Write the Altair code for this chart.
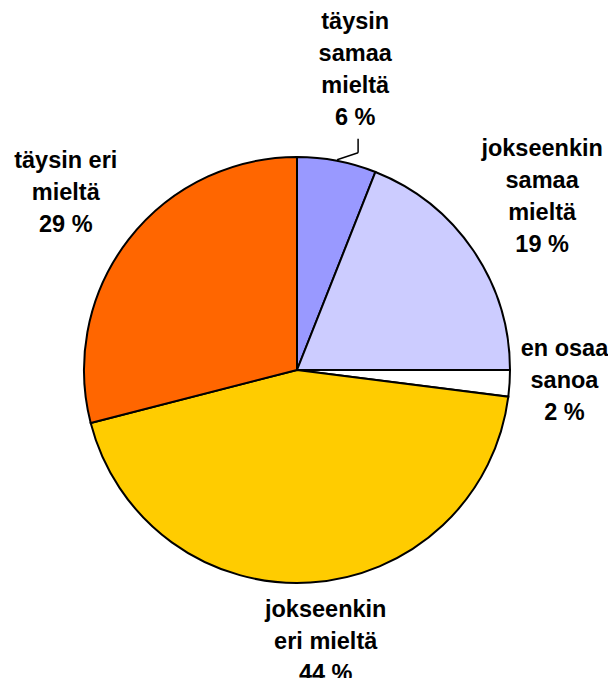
import math
import altair as alt
import pandas as pd

# ---- data ----
categories = ["täysin samaa mieltä", "jokseenkin samaa mieltä", "en osaa sanoa",
              "jokseenkin eri mieltä", "täysin eri mieltä"]
values = [6, 19, 2, 44, 29]
label_lines = [
    "täysin\nsamaa\nmieltä",
    "jokseenkin\nsamaa\nmieltä",
    "en osaa\nsanoa",
    "jokseenkin\neri mieltä",
    "täysin eri\nmieltä",
]
colors = ["#9999FF", "#CCCCFF", "#FFFFFF", "#FFCC00", "#FF6600"]

# ---- label styling (radius, dx, dy) ----
label_style = [
    (300, 2, -46),
    (300, -3, -45),
    (266, 2, -31),
    (250, 13, -3),
    (280, -10, -30),
]

df = pd.DataFrame({
    "category": categories,
    "value": values,
    "label": [f"{l}\n{v} %" for l, v in zip(label_lines, values)],
    "order": list(range(len(values))),
})

W, H = 578, 616
R = 213
FONT = "Liberation Sans"

theta_scale = alt.Scale(domain=[0, 100], range=[0, 2 * math.pi])

base = alt.Chart(df).transform_window(
    cum="sum(value)", sort=[alt.SortField("order")], frame=[None, 0]
).transform_calculate(
    start="datum.cum - datum.value",
    mid="datum.cum - datum.value / 2",
)

arcs = base.mark_arc(radius=R, stroke="black", strokeWidth=2).encode(
    theta=alt.Theta("start:Q", scale=theta_scale),
    theta2="cum:Q",
    color=alt.Color("category:N", scale=alt.Scale(domain=categories, range=colors), legend=None),
)

layers = [arcs]
for i, (r, dx, dy) in enumerate(label_style):
    layers.append(
        base.transform_filter(f"datum.order == {i}").mark_text(
            radius=r, dx=dx, dy=dy, font=FONT, fontSize=23.5, fontWeight="bold",
            lineBreak="\n", lineHeight=32, align="center", baseline="alphabetic", color="black",
        ).encode(
            theta=alt.Theta("mid:Q", scale=theta_scale),
            text="label:N",
        )
    )

# leader line for the smallest top slice
leader = base.transform_filter("datum.order == 0").transform_calculate(
    a="datum.mid / 100 * 2 * PI",
).transform_calculate(
    ax=f"{W/2} + {R+1} * sin(datum.a)",
    ay=f"{H/2} - {R+1} * cos(datum.a)",
).transform_calculate(
    bx="datum.ax + 21", by="datum.ay - 7",
).transform_calculate(
    cx="datum.bx", cy="datum.by - 14",
)
leader1 = leader.mark_rule(color="black", strokeWidth=1.5).encode(
    x=alt.X("ax:Q", scale=None), y=alt.Y("ay:Q", scale=None),
    x2="bx:Q", y2="by:Q",
)
leader2 = leader.mark_rule(color="black", strokeWidth=1.5).encode(
    x=alt.X("bx:Q", scale=None), y=alt.Y("by:Q", scale=None),
    x2="cx:Q", y2="cy:Q",
)
layers += [leader1, leader2]

chart = alt.layer(*layers).properties(
    width=W, height=H,
    autosize=alt.AutoSizeParams(type="none"),
    padding={"left": 0, "top": 54, "right": 22, "bottom": 0},
).configure_view(stroke=None)

chart.save("out.html", embed_options={"renderer": "svg", "actions": False})
